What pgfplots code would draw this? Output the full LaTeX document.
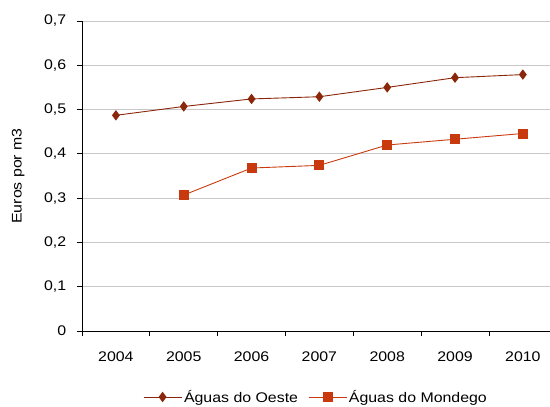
\documentclass[border=0pt]{standalone}
\usepackage{fontspec}
\setmainfont{Liberation Sans}[FakeStretch=1.14]
\usepackage{pgfplots}
\pgfplotsset{compat=1.18}
\definecolor{oeste}{RGB}{138,38,10}
\definecolor{mondego}{RGB}{200,58,14}
\definecolor{gridc}{RGB}{200,200,200}
\newcommand{\fs}{\fontsize{14}{16}\selectfont}
\begin{document}
\fs
\begin{tikzpicture}
\begin{axis}[
  scale only axis,
  width=468bp, height=310bp,
  xmin=-0.5, xmax=6.4,
  ymin=0, ymax=0.7,
  axis x line=bottom, axis y line=left,
  axis line style={-, black, line width=0.9pt},
  xtick={0,1,2,3,4,5,6},
  xticklabels={2004,2005,2006,2007,2008,2009,2010},
  minor xtick={-0.5,0.5,1.5,2.5,3.5,4.5,5.5},
  major x tick style={draw=none},
  minor x tick style={black, line width=0.8pt},
  ytick={0,0.1,0.2,0.3,0.4,0.5,0.6,0.7},
  y tick style={black, line width=0.8pt},
  tick align=outside,
  major tick length=5bp, minor tick length=5bp,
  ymajorgrids,
  major grid style={gridc, line width=0.8pt},
  /pgf/number format/assume math mode=true,
  ticklabel style={font=\fs},
  yticklabel style={xshift=-6bp, /pgf/number format/.cd, use comma, fixed, precision=1},
  xticklabel style={yshift=-11bp},
  ylabel={Euros por m3},
  ylabel style={font=\fs, yshift=10bp},
  legend columns=2,
  legend style={at={(0.5,-0.213)}, anchor=center, draw=none, font=\fs,
    /tikz/every even column/.append style={column sep=8bp}},
  legend image code/.code={
    \draw[mark repeat=2,mark phase=2] plot coordinates {(0bp,0bp) (19bp,0bp) (38bp,0bp)};},
  legend cell align=left,
]
\addplot[color=oeste, line width=0.9pt, mark=diamond*, mark size=4.5bp, mark options={fill=oeste, draw=oeste}]
  coordinates {(0,0.487) (1,0.507) (2,0.524) (3,0.529) (4,0.550) (5,0.572) (6,0.579)};
\addlegendentry{Águas do Oeste}
\addplot[color=mondego, line width=0.9pt, mark=square*, mark size=4.5bp, mark options={fill=mondego, draw=mondego}]
  coordinates {(1,0.307) (2,0.368) (3,0.374) (4,0.420) (5,0.433) (6,0.446)};
\addlegendentry{Águas do Mondego}
\coordinate (sw) at (rel axis cs:0,0);
\coordinate (ne) at (rel axis cs:1,1);
\end{axis}
\pgfresetboundingbox
\path ([xshift=-82bp,yshift=-76bp]sw) rectangle ([yshift=21bp]ne);
\end{tikzpicture}
\end{document}
